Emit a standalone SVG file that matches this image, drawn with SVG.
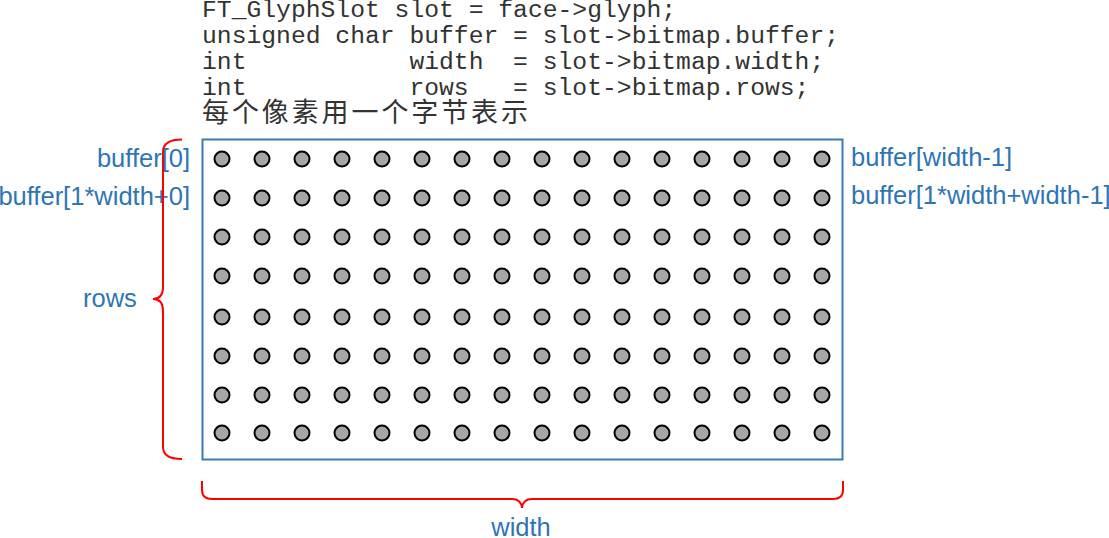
<svg xmlns="http://www.w3.org/2000/svg" xmlns:xlink="http://www.w3.org/1999/xlink" width="1109" height="538" viewBox="0 0 1109 538">
<style>
.code{font-family:"Liberation Mono","Courier New",monospace;font-size:24.7px;fill:#333333;white-space:pre}
.cjk{font-family:"Noto Sans CJK SC","Noto Sans CJK JP",sans-serif;font-size:27px;fill:#333333}
.lbl{font-family:"Liberation Sans",Arial,sans-serif;font-size:25.5px;fill:#2e75b6}
.dot{fill:#a6a6a6;stroke:#000;stroke-width:2}
.brace{fill:none;stroke:#ff0000;stroke-width:2}
</style>
<defs>
<circle id="d" class="dot" cx="0" cy="0" r="7.5"/>
</defs>
<g id="code">
<text class="code" x="202" y="17">FT_GlyphSlot slot = face-&gt;glyph;</text>
<text class="code" x="202" y="43">unsigned char buffer = slot-&gt;bitmap.buffer;</text>
<text class="code" x="202" y="69">int           width  = slot-&gt;bitmap.width;</text>
<text class="code" x="202" y="95">int           rows   = slot-&gt;bitmap.rows;</text>
<text class="cjk" x="202" y="122" textLength="326" lengthAdjust="spacing">每个像素用一个字节表示</text>
</g>
<g id="bitmap">
<rect x="202.5" y="139.5" width="640" height="320" fill="#fff" stroke="#3a7ab4" stroke-width="2"/>
<g id="dots">
<g transform="translate(0,159)"><use xlink:href="#d" x="222"/><use xlink:href="#d" x="262"/><use xlink:href="#d" x="302"/><use xlink:href="#d" x="342"/><use xlink:href="#d" x="382"/><use xlink:href="#d" x="422"/><use xlink:href="#d" x="462"/><use xlink:href="#d" x="502"/><use xlink:href="#d" x="542"/><use xlink:href="#d" x="582"/><use xlink:href="#d" x="622"/><use xlink:href="#d" x="662"/><use xlink:href="#d" x="702"/><use xlink:href="#d" x="742"/><use xlink:href="#d" x="782"/><use xlink:href="#d" x="822"/></g>
<g transform="translate(0,198)"><use xlink:href="#d" x="222"/><use xlink:href="#d" x="262"/><use xlink:href="#d" x="302"/><use xlink:href="#d" x="342"/><use xlink:href="#d" x="382"/><use xlink:href="#d" x="422"/><use xlink:href="#d" x="462"/><use xlink:href="#d" x="502"/><use xlink:href="#d" x="542"/><use xlink:href="#d" x="582"/><use xlink:href="#d" x="622"/><use xlink:href="#d" x="662"/><use xlink:href="#d" x="702"/><use xlink:href="#d" x="742"/><use xlink:href="#d" x="782"/><use xlink:href="#d" x="822"/></g>
<g transform="translate(0,237)"><use xlink:href="#d" x="222"/><use xlink:href="#d" x="262"/><use xlink:href="#d" x="302"/><use xlink:href="#d" x="342"/><use xlink:href="#d" x="382"/><use xlink:href="#d" x="422"/><use xlink:href="#d" x="462"/><use xlink:href="#d" x="502"/><use xlink:href="#d" x="542"/><use xlink:href="#d" x="582"/><use xlink:href="#d" x="622"/><use xlink:href="#d" x="662"/><use xlink:href="#d" x="702"/><use xlink:href="#d" x="742"/><use xlink:href="#d" x="782"/><use xlink:href="#d" x="822"/></g>
<g transform="translate(0,276)"><use xlink:href="#d" x="222"/><use xlink:href="#d" x="262"/><use xlink:href="#d" x="302"/><use xlink:href="#d" x="342"/><use xlink:href="#d" x="382"/><use xlink:href="#d" x="422"/><use xlink:href="#d" x="462"/><use xlink:href="#d" x="502"/><use xlink:href="#d" x="542"/><use xlink:href="#d" x="582"/><use xlink:href="#d" x="622"/><use xlink:href="#d" x="662"/><use xlink:href="#d" x="702"/><use xlink:href="#d" x="742"/><use xlink:href="#d" x="782"/><use xlink:href="#d" x="822"/></g>
<g transform="translate(0,317)"><use xlink:href="#d" x="222"/><use xlink:href="#d" x="262"/><use xlink:href="#d" x="302"/><use xlink:href="#d" x="342"/><use xlink:href="#d" x="382"/><use xlink:href="#d" x="422"/><use xlink:href="#d" x="462"/><use xlink:href="#d" x="502"/><use xlink:href="#d" x="542"/><use xlink:href="#d" x="582"/><use xlink:href="#d" x="622"/><use xlink:href="#d" x="662"/><use xlink:href="#d" x="702"/><use xlink:href="#d" x="742"/><use xlink:href="#d" x="782"/><use xlink:href="#d" x="822"/></g>
<g transform="translate(0,356)"><use xlink:href="#d" x="222"/><use xlink:href="#d" x="262"/><use xlink:href="#d" x="302"/><use xlink:href="#d" x="342"/><use xlink:href="#d" x="382"/><use xlink:href="#d" x="422"/><use xlink:href="#d" x="462"/><use xlink:href="#d" x="502"/><use xlink:href="#d" x="542"/><use xlink:href="#d" x="582"/><use xlink:href="#d" x="622"/><use xlink:href="#d" x="662"/><use xlink:href="#d" x="702"/><use xlink:href="#d" x="742"/><use xlink:href="#d" x="782"/><use xlink:href="#d" x="822"/></g>
<g transform="translate(0,395)"><use xlink:href="#d" x="222"/><use xlink:href="#d" x="262"/><use xlink:href="#d" x="302"/><use xlink:href="#d" x="342"/><use xlink:href="#d" x="382"/><use xlink:href="#d" x="422"/><use xlink:href="#d" x="462"/><use xlink:href="#d" x="502"/><use xlink:href="#d" x="542"/><use xlink:href="#d" x="582"/><use xlink:href="#d" x="622"/><use xlink:href="#d" x="662"/><use xlink:href="#d" x="702"/><use xlink:href="#d" x="742"/><use xlink:href="#d" x="782"/><use xlink:href="#d" x="822"/></g>
<g transform="translate(0,433)"><use xlink:href="#d" x="222"/><use xlink:href="#d" x="262"/><use xlink:href="#d" x="302"/><use xlink:href="#d" x="342"/><use xlink:href="#d" x="382"/><use xlink:href="#d" x="422"/><use xlink:href="#d" x="462"/><use xlink:href="#d" x="502"/><use xlink:href="#d" x="542"/><use xlink:href="#d" x="582"/><use xlink:href="#d" x="622"/><use xlink:href="#d" x="662"/><use xlink:href="#d" x="702"/><use xlink:href="#d" x="742"/><use xlink:href="#d" x="782"/><use xlink:href="#d" x="822"/></g>
</g>
</g>
<g id="labels">
<text class="lbl" x="190" y="167" text-anchor="end">buffer[0]</text>
<text class="lbl" x="190" y="205" text-anchor="end">buffer[1*width+0]</text>
<text class="lbl" x="851" y="166">buffer[width-1]</text>
<text class="lbl" x="851" y="204">buffer[1*width+width-1]</text>
<text class="lbl" x="83" y="307">rows</text>
<text class="lbl" x="521" y="536" text-anchor="middle">width</text>
</g>
<g id="connectors">
<path class="brace" d="M182,139.5 Q163,139.5 163,152 L163,287 Q163,299 153,299 Q163,299 163,311 L163,447 Q163,459 182,459"/>
<path class="brace" d="M202,481 L202,490 Q202,499 212,499 L512,499 Q521,499 522,508 Q523,499 532,499 L833,499 Q843,499 843,490 L843,481"/>
</g>
</svg>
